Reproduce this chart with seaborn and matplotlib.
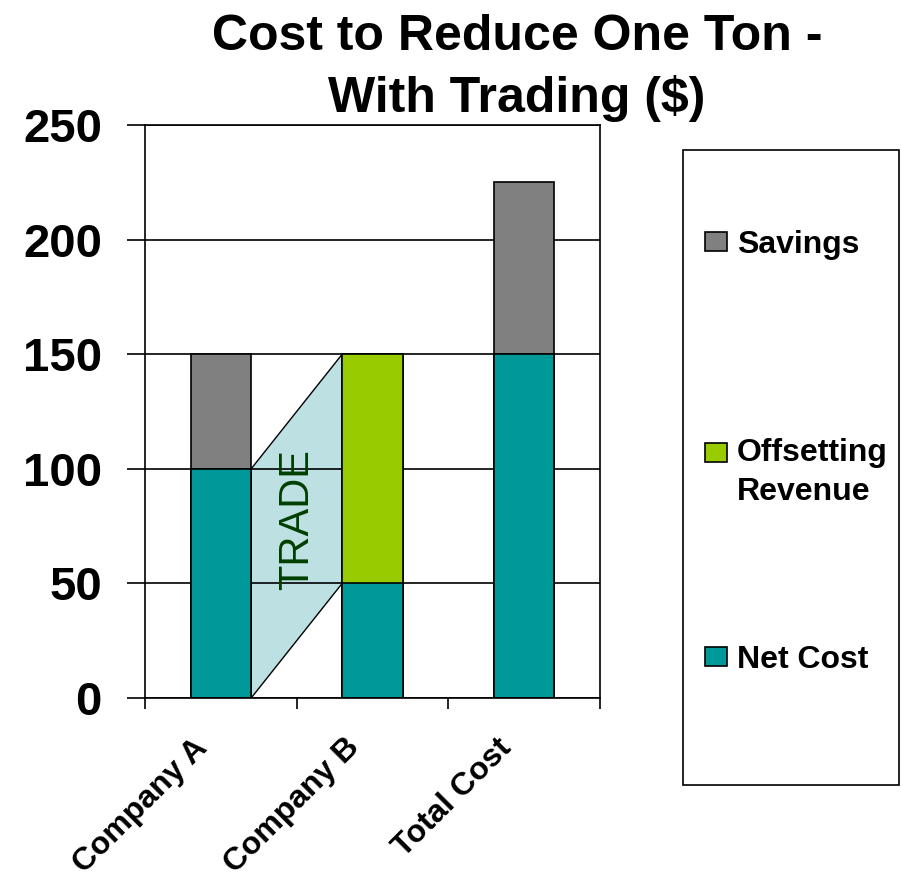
import numpy as np
import matplotlib
matplotlib.use("Agg")
import matplotlib.pyplot as plt
import matplotlib.transforms as mtransforms
from matplotlib.patches import Patch, Rectangle
import seaborn as sns

# data
companies = ["Company A", "Company B", "Total Cost"]
net_cost = [100, 50, 150]
offsetting_revenue = [0, 100, 0]
savings = [50, 0, 75]

series_names = ["Savings", "Offsetting\nRevenue", "Net Cost"]
colors = {"Net Cost": "#009999", "Offsetting\nRevenue": "#99cc00", "Savings": "#808080"}
trade_color = "#bde0e3"

sns.set_style("white")
plt.rcParams["font.family"] = ["Liberation Sans", "DejaVu Sans"]
plt.rcParams["text.color"] = "black"
plt.rcParams["xtick.color"] = "black"
plt.rcParams["ytick.color"] = "black"

fig = plt.figure(figsize=(9.01, 8.8), dpi=100)
ax = fig.add_axes([145 / 901, 1 - 698 / 880, 455 / 901, 573 / 880])

# stacked bars drawn as overlapping cumulative layers
layer_net = np.array(net_cost)
layer_off = layer_net + np.array(offsetting_revenue)
layer_sav = layer_off + np.array(savings)

bar_w = 0.4
for heights, name in [(layer_sav, "Savings"), (layer_off, "Offsetting\nRevenue"), (layer_net, "Net Cost")]:
    sns.barplot(x=companies, y=heights, color=colors[name], width=bar_w,
                edgecolor="black", linewidth=1.2, saturation=1, ax=ax, zorder=2)

# the "trade" band between company A and company B
half = bar_w / 2
trade_x = [0 + half, 1 - half, 1 - half, 0 + half]
trade_y = [0, net_cost[1], layer_off[1], net_cost[0]]
ax.fill(trade_x, trade_y, facecolor=trade_color, edgecolor="black", linewidth=1.0, zorder=0.4)
ax.text(0.5, 78, "TRADE", rotation=90, ha="center", va="center",
        fontsize=30, color="#003f00")

ax.set_ylim(0, 250)
ax.set_xlim(-0.5, 2.5)
ax.set_yticks([0, 50, 100, 150, 200, 250])
ax.set_yticklabels(["0", "50", "100", "150", "200", "250"], fontsize=34, fontweight="bold")
ax.tick_params(axis="y", direction="out", length=13, width=1.2, pad=18, left=True, color="black")

ax.set_xticks([-0.5, 0.5, 1.5, 2.5])
ax.set_xticklabels([])
ax.set_xticks([0, 1, 2], minor=True)
ax.set_xticklabels(companies, minor=True, rotation=45, ha="right", va="top",
                   rotation_mode="anchor", fontsize=23, fontweight="bold")
ax.tick_params(axis="x", which="major", direction="out", length=8, width=1.2, bottom=True, color="black")
ax.tick_params(axis="x", which="minor", length=0, pad=30)
ax.set_xlabel("")

shift = mtransforms.ScaledTranslation(-0.28, 0.07, fig.dpi_scale_trans)
for lbl in ax.get_xticklabels(minor=True):
    lbl.set_transform(lbl.get_transform() + shift)

ax.set_axisbelow(True)
ax.yaxis.grid(True, color="black", linewidth=1.2)
ax.xaxis.grid(False)
for side in ["left", "right", "bottom", "top"]:
    ax.spines[side].set_visible(True)
    ax.spines[side].set_color("black")
    ax.spines[side].set_linewidth(1.2)

fig.text(517 / 901, 1 - 68 / 880, "Cost to Reduce One Ton -\nWith Trading ($)",
         ha="center", va="center", fontsize=36, fontweight="bold", linespacing=1.4)

# legend frame
fig.patches.append(Rectangle((683 / 901, 1 - 785 / 880), 216 / 901, 635 / 880,
                             transform=fig.transFigure, facecolor="none",
                             edgecolor="black", linewidth=1.2))
handles = [Patch(facecolor=colors[n], edgecolor="black", linewidth=1.2) for n in series_names]
leg = fig.legend(handles, series_names, loc="center left", bbox_to_anchor=(705 / 901, 0.486),
                 frameon=False, borderpad=0, borderaxespad=0, handlelength=0.7, handleheight=0.56,
                 handletextpad=0.3, labelspacing=4.95, prop={"size": 23, "weight": "bold"})
for t in leg.get_texts():
    t.set_linespacing(1.4)
    t.set_color("black")
# two-line label: first line sits level with its swatch
two_line = leg.get_texts()[1]
two_line.set_transform(two_line.get_transform()
                       + mtransforms.ScaledTranslation(0, -0.2, fig.dpi_scale_trans))

fig.savefig("out.png", dpi=100)
